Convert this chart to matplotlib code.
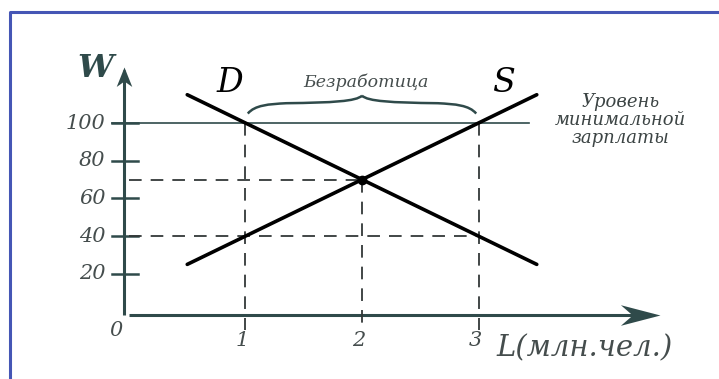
import matplotlib.pyplot as plt
from matplotlib.lines import Line2D
from matplotlib.path import Path
from matplotlib.patches import PathPatch

# data
labour = [0.5, 3.5]
demand_w = [115, 25]
supply_w = [25, 115]
min_wage = 100
eq_l, eq_w = 2, 70
surplus_l = [1, 3]      # employed / offered labour at minimum wage
surplus_w = 40
y_ticks = [20, 40, 60, 80, 100]
x_ticks = [1, 2, 3]

axis_col = '#2f4a4a'
text_col = '#454d4d'
serif = 'DejaVu Serif'

fig = plt.figure(figsize=(7.19, 3.79), dpi=100)
ax = fig.add_axes([0, 0, 1, 1])
ax.set_xlim(-1.107, 5.064)
ax.set_ylim(-35.8, 165.25)
ax.axis('off')

# blue frame on top and left
fig.add_artist(Line2D([0.0139, 0.0139, 1.0], [0.0, 0.968, 0.968],
                      transform=fig.transFigure, color='#4556b5', lw=2.2))

# swept arrowheads as custom markers (tip at the marker position)
head_x = [(0, 0), (-1, 0.26), (-0.7, 0), (-1, -0.26), (0, 0)]
head_y = [(0, 0), (-0.4, -1), (0, -0.72), (0.4, -1), (0, 0)]
ax.plot([0, 4.5], [-1.9, -1.9], color=axis_col, lw=2.2, solid_capstyle='butt')
ax.plot([-0.04, -0.04], [-1.9, 128], color=axis_col, lw=2.2, solid_capstyle='butt')
ax.plot(4.56, -1.9, marker=head_x, ms=57, color=axis_col, mew=0)
ax.plot(-0.04, 129.7, marker=head_y, ms=28, color=axis_col, mew=0)

# y ticks and labels
for v in y_ticks:
    ax.plot([-0.15, 0.08], [v, v], color=axis_col, lw=1.8)
    ax.text(-0.2, v, str(v), ha='right', va='center', fontsize=15,
            family=serif, style='italic', color=text_col)
ax.text(-0.11, -10, '0', ha='center', va='center', fontsize=15,
        family=serif, style='italic', color=text_col)
for v in x_ticks:
    ax.text(v - 0.03, -15.5, str(v), ha='center', va='center', fontsize=15,
            family=serif, style='italic', color=text_col)

# minimum wage line
ax.plot([-0.15, 3.43], [min_wage, min_wage], color=axis_col, lw=1.2)

# dashed guide lines
dash = dict(color='#333838', lw=1.3, dashes=(7, 5))
ax.plot([0, eq_l], [eq_w, eq_w], **dash)
ax.plot([0, surplus_l[1]], [surplus_w, surplus_w], **dash)
ax.plot([eq_l, eq_l], [eq_w, -10], **dash)
for v in surplus_l:
    ax.plot([v, v], [min_wage, -10], **dash)

# demand and supply
ax.plot(labour, demand_w, color='black', lw=2.6, solid_capstyle='round')
ax.plot(labour, supply_w, color='black', lw=2.6, solid_capstyle='round')
ax.plot(eq_l, eq_w, 'o', color='black', ms=6)

# curly brace over the unemployment gap
mid = (surplus_l[0] + surplus_l[1]) / 2
verts, codes = [], []
for side in (-1, 1):
    pts = [(mid + side * 0.98, 105), (mid + side * 0.92, 109.5), (mid + side * 0.8, 110),
           (mid + side * 0.65, 110.5), (mid + side * 0.25, 110.8), (mid + side * 0.05, 111.5),
           (mid, 114.5)]
    verts += pts
    codes += [Path.MOVETO] + [Path.CURVE4] * 6
ax.add_patch(PathPatch(Path(verts, codes), fill=False, ec=axis_col, lw=1.8))

ax.text(mid + 0.03, 121.5, 'Безработица', ha='center', va='center', fontsize=12.5,
        family=serif, style='italic', color=text_col)
ax.text(0.87, 121, 'D', ha='center', va='center', fontsize=24,
        family=serif, style='italic', color='black')
ax.text(3.21, 121, 'S', ha='center', va='center', fontsize=24,
        family=serif, style='italic', color='black')
ax.text(-0.29, 129, 'W', ha='center', va='center', fontsize=23,
        family=serif, style='italic', weight='bold', color=axis_col)
ax.text(3.15, -24, 'L(млн.чел.)', ha='left', va='baseline', fontsize=21,
        family=serif, style='italic', color=text_col)
ax.text(4.22, 101.5, 'Уровень\nминимальной\nзарплаты', ha='center', va='center',
        fontsize=13, family=serif, style='italic', color='#3c4444', linespacing=1.0)

fig.savefig('out.png', dpi=100)
